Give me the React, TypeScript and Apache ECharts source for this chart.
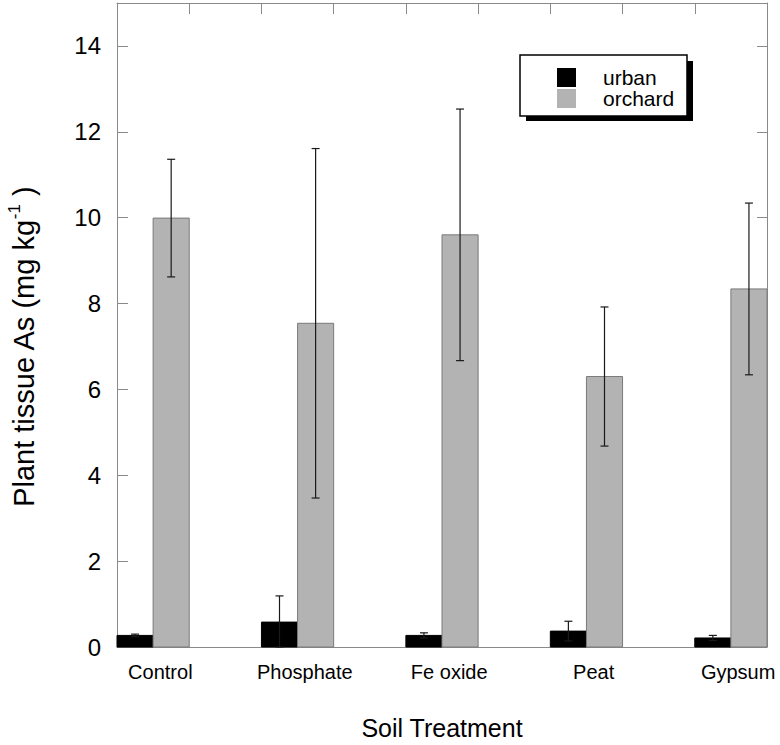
import React, { useEffect, useRef } from "react";
import * as echarts from "echarts";

const categories = ["Control", "Phosphate", "Fe oxide", "Peat", "Gypsum"];
const urbanMean = [0.27, 0.58, 0.27, 0.37, 0.21];
const urbanErr = [0.03, 0.61, 0.06, 0.23, 0.06];
const orchardMean = [9.99, 7.54, 9.6, 6.3, 8.34];
const orchardErr = [1.37, 4.07, 2.93, 1.62, 2.0];
const yTicks = [0, 2, 4, 6, 8, 10, 12, 14];

const FONT = "'Liberation Sans', Arial, Helvetica, sans-serif";
const BAR_W = 0.25;
const FRAME = "#8a8a8a";

function makeRender(offset: number, fill: string, stroke: string) {
  return (_params: any, api: any) => {
    const x = api.value(0);
    const y = api.value(1);
    const e = api.value(2);
    const p0 = api.coord([x + offset, 0]);
    const p1 = api.coord([x + offset + BAR_W, y]);
    const cx = api.coord([x + offset + BAR_W / 2, 0])[0];
    const top = api.coord([0, y + e])[1];
    const bot = api.coord([0, Math.max(0, y - e)])[1];
    const capHalf = 4;
    const errStyle = { stroke: "#1a1a1a", lineWidth: 1.2 };
    return {
      type: "group",
      children: [
        {
          type: "rect",
          shape: { x: p0[0], y: p1[1], width: p1[0] - p0[0], height: p0[1] - p1[1] },
          style: { fill, stroke, lineWidth: 1 },
        },
        { type: "line", shape: { x1: cx, y1: top, x2: cx, y2: bot }, style: errStyle },
        { type: "line", shape: { x1: cx - capHalf, y1: top, x2: cx + capHalf, y2: top }, style: errStyle },
        { type: "line", shape: { x1: cx - capHalf, y1: bot, x2: cx + capHalf, y2: bot }, style: errStyle },
      ],
    };
  };
}

export default function App() {
  const ref = useRef<HTMLDivElement>(null);
  useEffect(() => {
    if (!ref.current) return;
    const chart = echarts.init(ref.current, null, { renderer: "svg" });
    const option: any = {
      animation: false,
      backgroundColor: "#ffffff",
      textStyle: { fontFamily: FONT },
      grid: { left: 117, right: 13, top: 3, bottom: 93 },
      xAxis: [
        {
          type: "value",
          position: "bottom",
          min: -0.25,
          max: 4.25,
          name: "Soil Treatment",
          nameLocation: "middle",
          nameGap: 68,
          nameTextStyle: { fontSize: 25, color: "#000", fontFamily: FONT },
          axisLine: { show: true, onZero: false, lineStyle: { color: FRAME, width: 1 } },
          axisTick: { show: false },
          splitLine: { show: false },
          axisLabel: {
            customValues: categories.map((_, i) => i + 0.05),
            formatter: (v: number) => categories[Math.round(v)] ?? "",
            fontSize: 20,
            color: "#000",
            margin: 15,
            fontFamily: FONT,
          },
        },
        {
          type: "value",
          position: "top",
          min: 0,
          max: 4.5,
          interval: 0.5,
          axisLine: { show: true, onZero: false, lineStyle: { color: FRAME, width: 1 } },
          axisTick: { show: true, inside: true, length: 11, lineStyle: { color: FRAME } },
          axisLabel: { show: false },
          splitLine: { show: false },
        },
      ],
      yAxis: [
        {
          type: "value",
          position: "left",
          min: 0,
          max: 15,
          interval: 2,
          axisLine: { show: true, onZero: false, lineStyle: { color: FRAME, width: 1 } },
          axisTick: { show: true, inside: true, length: 11, lineStyle: { color: FRAME } },
          splitLine: { show: false },
          axisLabel: {
            formatter: (v: number) => (yTicks.includes(v) ? String(v) : ""),
            fontSize: 24,
            color: "#000",
            margin: 16,
            fontFamily: FONT,
          },
        },
        {
          type: "value",
          position: "right",
          min: 0,
          max: 15,
          interval: 2,
          axisLine: { show: true, onZero: false, lineStyle: { color: FRAME, width: 1 } },
          axisTick: { show: true, inside: true, length: 10, lineStyle: { color: FRAME } },
          splitLine: { show: false },
          axisLabel: { show: false },
        },
      ],
      legend: {
        orient: "vertical",
        left: 557,
        top: 67,
        padding: 0,
        itemGap: 0,
        itemWidth: 19,
        itemHeight: 19,
        z: 10,
        selectedMode: false,
        data: [
          { name: "urban", icon: "rect" },
          { name: "orchard", icon: "rect" },
        ],
        textStyle: { fontSize: 21, color: "#000", fontFamily: FONT, padding: [0, 0, 0, 22], lineHeight: 19 },
      },
      graphic: [
        {
          type: "rect",
          z: 1,
          shape: { x: 526, y: 61, width: 167, height: 60 },
          style: { fill: "#000" },
        },
        {
          type: "rect",
          z: 2,
          shape: { x: 520, y: 55, width: 167, height: 61 },
          style: { fill: "#fff", stroke: "#000", lineWidth: 1.5 },
        },
        {
          type: "text",
          z: 3,
          x: 24,
          y: 347,
          rotation: Math.PI / 2,
          style: {
            text: "Plant tissue As (mg kg{sup|-1} )",
            font: `29px ${FONT}`,
            fontSize: 29,
            fontFamily: FONT,
            fill: "#000",
            align: "center",
            verticalAlign: "middle",
            lineHeight: 36,
            rich: {
              sup: { fontSize: 17, fontFamily: FONT, verticalAlign: "top", lineHeight: 17, fill: "#000" },
            },
          },
        },
      ],
      series: [
        {
          name: "urban",
          type: "custom",
          xAxisIndex: 0,
          yAxisIndex: 0,
          itemStyle: { color: "#000000" },
          encode: { x: 0, y: 1 },
          renderItem: makeRender(-BAR_W, "#000000", "#000000"),
          data: categories.map((_, i) => [i, urbanMean[i], urbanErr[i]]),
          z: 3,
        },
        {
          name: "orchard",
          type: "custom",
          xAxisIndex: 0,
          yAxisIndex: 0,
          itemStyle: { color: "#b3b3b3" },
          encode: { x: 0, y: 1 },
          renderItem: makeRender(0, "#b3b3b3", "#7a7a7a"),
          data: categories.map((_, i) => [i, orchardMean[i], orchardErr[i]]),
          z: 3,
        },
      ],
    };
    chart.setOption(option);
    return () => chart.dispose();
  }, []);
  return (
    <div
      ref={ref}
      style={{ position: "absolute", left: 0, top: 0, width: 780, height: 745 }}
    />
  );
}
